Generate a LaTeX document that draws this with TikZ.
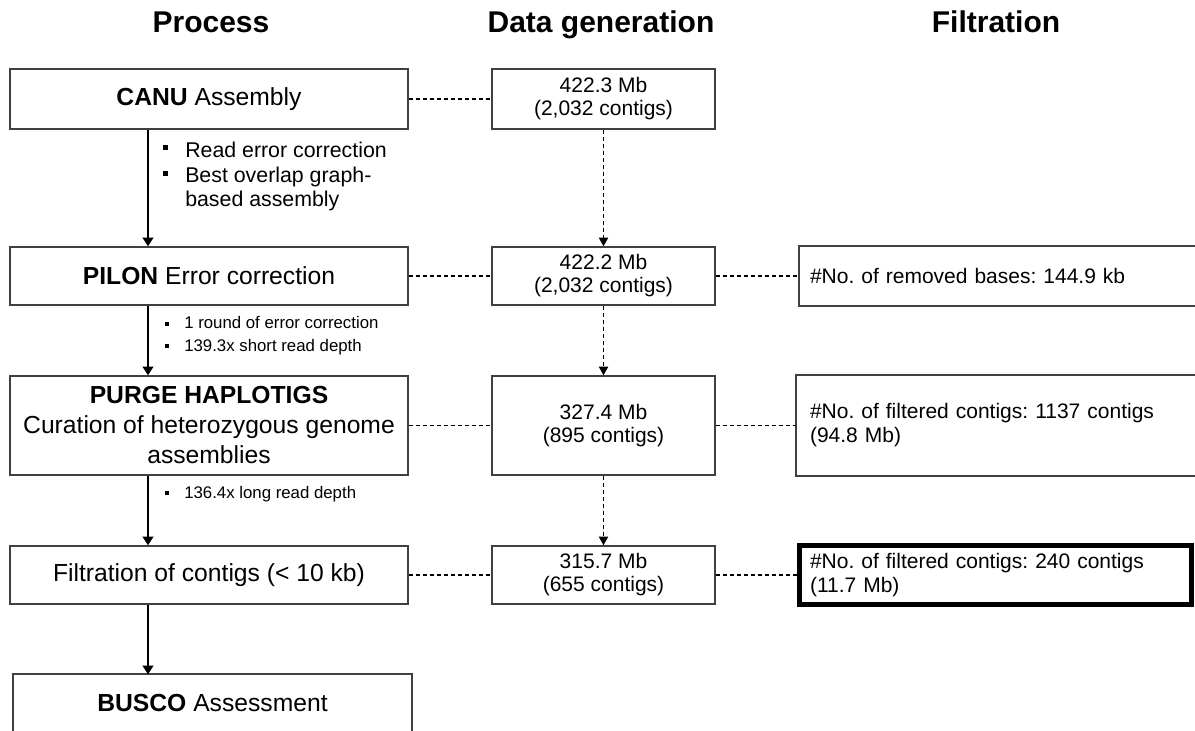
\documentclass[tikz,border=0pt]{standalone}
\usepackage{fontspec}
\setmainfont{Liberation Sans}
\usetikzlibrary{arrows.meta}
\definecolor{boxgray}{RGB}{64,64,64}
\frenchspacing
\begin{document}
\begin{tikzpicture}[x=0.75pt,y=-0.75pt,
  head/.style={anchor=base,font=\fontsize{22.5pt}{26pt}\selectfont\bfseries,inner sep=0pt},
  procbox/.style={draw=boxgray,line width=1.1pt,minimum width=298.5pt,align=center,inner sep=0pt,
    font=\fontsize{18.5pt}{22.5pt}\selectfont},
  databox/.style={draw=boxgray,line width=1.1pt,minimum width=167.25pt,align=center,inner sep=0pt,
    font=\fontsize{15.75pt}{17.25pt}\selectfont},
  filtbox/.style={draw=boxgray,line width=1.1pt,align=left,inner sep=0pt,
    font=\fontsize{15.75pt}{18pt}\selectfont},
  openedge/.style={draw=boxgray,line width=1.4pt,line join=miter},
  bigbul/.style={anchor=base west,inner sep=0pt,font=\fontsize{16pt}{18pt}\selectfont},
  smallbul/.style={anchor=base west,inner sep=0pt,font=\fontsize{12.6pt}{15pt}\selectfont},
  sq/.style={fill=black,inner sep=0pt,minimum size=#1},
  solidarrow/.style={line width=1.9pt,-{Triangle[width=8pt,length=6.5pt]}},
  dline/.style={line width=0.8pt,dash pattern=on 3pt off 2.25pt},
  darrow/.style={line width=0.8pt,dash pattern=on 3pt off 2.25pt,-{Triangle[width=7pt,length=6.5pt]}}
]
\useasboundingbox (0,0) rectangle (1195,731);
% headers
\node[head] (h1) at (211,33) {Process};
\node[head] (h2) at (601,33) {Data generation};
\node[head] (h3) at (996,33) {Filtration};
% process column
\node[procbox,minimum height=45pt] (canu) at (209,99) {\textbf{CANU} Assembly};
\node[procbox,minimum height=43.5pt] (pilon) at (209,276) {\textbf{PILON} Error correction};
\node[procbox,minimum height=74.25pt] (purge) at (209,425.5) {\textbf{PURGE HAPLOTIGS}\\Curation of heterozygous genome\\assemblies};
\node[procbox,minimum height=43.5pt] (filt) at (209,575) {Filtration of contigs (< 10 kb)};
\node[procbox,draw=none,minimum width=297.75pt,minimum height=42pt] (busco) at (212.5,703) {\textbf{BUSCO} Assessment};
\draw[openedge] (busco.south west) -- (busco.north west) -- (busco.north east) -- (busco.south east);
% data column
\node[databox,minimum height=45pt] (d1) at (603.5,99) {422.3 Mb\\(2,032 contigs)};
\node[databox,minimum height=43.5pt] (d2) at (603.5,276) {422.2 Mb\\(2,032 contigs)};
\node[databox,minimum height=74.25pt] (d3) at (603.5,425.5) {327.4 Mb\\(895 contigs)};
\node[databox,minimum height=43.5pt] (d4) at (603.5,575) {315.7 Mb\\(655 contigs)};
% filtration column
\node[filtbox,draw=none,minimum width=296.25pt,minimum height=43.5pt,text width=281.25pt] (f1) at (997.5,276) {\#No. of removed bases: 144.9 kb};
\draw[openedge] (f1.north east) -- (f1.north west) -- (f1.south west) -- (f1.south east);
\node[filtbox,draw=none,minimum width=298.5pt,minimum height=74.25pt,text width=279pt] (f2) at (996,425.5) {\#No. of filtered contigs: 1137 contigs\\(94.8 Mb)};
\draw[openedge] (f2.north east) -- (f2.north west) -- (f2.south west) -- (f2.south east);
\node[filtbox,line width=3.75pt,draw=black,minimum width=294pt,minimum height=44.25pt,text width=278.25pt] (f3) at (995.5,575) {\#No. of filtered contigs: 240 contigs\\(11.7 Mb)};
% process arrows
\coordinate (ax) at (148,0);
\draw[solidarrow] (canu.south -| ax) -- (pilon.north -| ax);
\draw[solidarrow] (pilon.south -| ax) -- (purge.north -| ax);
\draw[solidarrow] (purge.south -| ax) -- (filt.north -| ax);
\draw[solidarrow] (filt.south -| ax) -- (busco.north -| ax);
% data arrows
\draw[darrow] (d1) -- (d2);
\draw[darrow] (d2) -- (d3);
\draw[darrow] (d3) -- (d4);
% dashed links
\draw[dline] (canu) -- (d1);
\draw[dline] (pilon) -- (d2);
\draw[dline] (d2) -- (f1.west);
\draw[dline] (purge) -- (d3);
\draw[dline] (d3) -- (f2.west);
\draw[dline] (filt) -- (d4);
\draw[dline] (d4) -- (f3);
% bullets CANU
\node[sq=3.75pt] (bq1) at (165,148) {};
\node[sq=3.75pt] (bq2) at (165,174) {};
\node[bigbul] (bt1) at (185,157) {Read error correction};
\node[bigbul] (bt2) at (185,182) {Best overlap graph-};
\node[bigbul] (bt3) at (185,206.5) {based assembly};
% bullets PILON
\node[sq=3pt] (bq3) at (167,323.5) {};
\node[sq=3pt] (bq4) at (167,345.5) {};
\node[smallbul] (bt4) at (184,328) {1 round of error correction};
\node[smallbul] (bt5) at (184,351) {139.3x short read depth};
% bullet PURGE
\node[sq=3pt] (bq5) at (167,493) {};
\node[smallbul] (bt6) at (184,498) {136.4x long read depth};
\end{tikzpicture}
\end{document}
